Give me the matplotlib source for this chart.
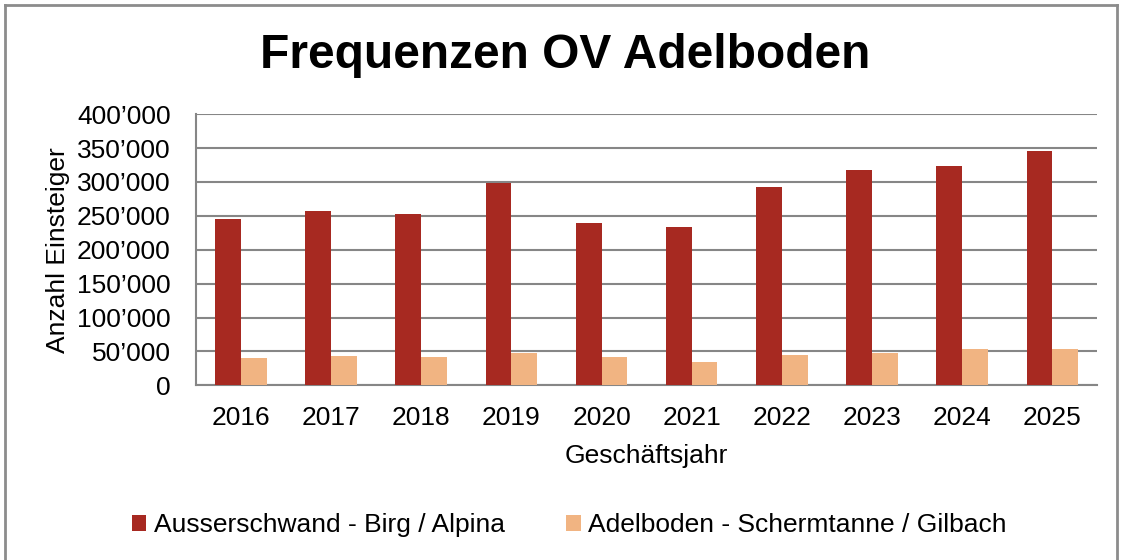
import matplotlib.pyplot as plt
import matplotlib.ticker as mticker
import numpy as np
from matplotlib.lines import Line2D

plt.rcParams['font.family'] = ['Liberation Sans', 'DejaVu Sans']

years = ['2016', '2017', '2018', '2019', '2020', '2021', '2022', '2023', '2024', '2025']
birg = [245000, 257000, 253000, 298000, 239000, 233000, 293000, 318000, 323000, 346000]
schermtanne = [40000, 43000, 41000, 48000, 42000, 35000, 45000, 48000, 53000, 54000]
labels = ['Ausserschwand - Birg / Alpina', 'Adelboden - Schermtanne / Gilbach']

red = '#A72921'
orange = '#F1B482'
grid = '#868686'

fig = plt.figure(figsize=(11.21, 5.6), dpi=100)
ax = fig.add_axes([0.1746, 0.312, 0.8044, 0.484])

x = np.arange(len(years))
w = 0.285
ax.bar(x - w / 2, birg, w, color=red, label=labels[0], zorder=3)
ax.bar(x + w / 2, schermtanne, w, color=orange, label=labels[1], zorder=3)

ax.set_xlim(-0.5, len(years) - 0.5)
ax.set_ylim(0, 400000)
ax.set_yticks(np.arange(0, 400001, 50000))
ax.yaxis.set_major_formatter(mticker.FuncFormatter(
    lambda v, p: f'{int(v):,}'.replace(',', '\u2019')))
ax.set_xticks(x)
ax.set_xticklabels(years)

ax.grid(axis='y', color=grid, linewidth=1.5, zorder=0)
for s in ['top', 'right']:
    ax.spines[s].set_visible(False)
for s in ['left', 'bottom']:
    ax.spines[s].set_color(grid)
    ax.spines[s].set_linewidth(1.5)

ax.tick_params(axis='y', labelsize=19, length=0, pad=18)
ax.tick_params(axis='x', labelsize=19, length=0, pad=15)

ax.set_ylabel('Anzahl Einsteiger', fontsize=19, labelpad=5)
ax.set_xlabel('Geschäftsjahr', fontsize=19, labelpad=10)

fig.text(0.504, 0.9, 'Frequenzen OV Adelboden', fontsize=34.5, fontweight='bold',
         ha='center', va='center')

fig.legend(loc='center', bbox_to_anchor=(0.508, 0.062), ncol=2, frameon=False,
           fontsize=19, handlelength=0.55, handleheight=0.55, handletextpad=0.3,
           columnspacing=2.3)

# outer chart border
fig.add_artist(Line2D([0.0045, 0.0045], [0, 0.991], transform=fig.transFigure,
                      color='#8c8c8c', linewidth=2))
fig.add_artist(Line2D([0.0045, 0.9965], [0.991, 0.991], transform=fig.transFigure,
                      color='#8c8c8c', linewidth=2))
fig.add_artist(Line2D([0.9965, 0.9965], [0, 0.991], transform=fig.transFigure,
                      color='#8c8c8c', linewidth=2))

fig.savefig('out.png', dpi=100)
